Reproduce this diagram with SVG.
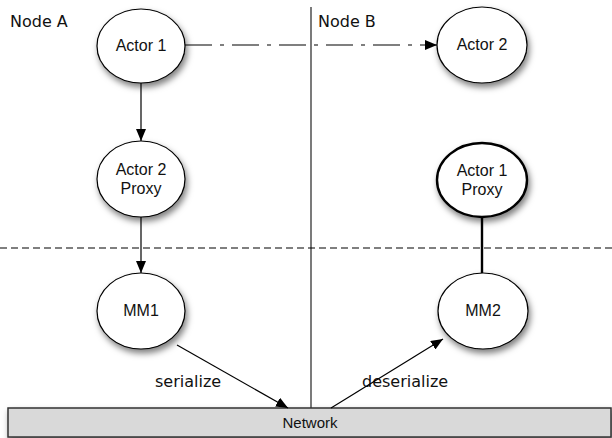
<svg xmlns="http://www.w3.org/2000/svg" width="612" height="438" viewBox="0 0 612 438">
  <style>
    .node { fill: #ffffff; stroke: #000000; stroke-width: 1.2; filter: url(#shadow); }
    .bold { stroke-width: 2.4; }
    .lbl { font-family: "Liberation Sans", Arial, sans-serif; font-size: 16px; fill: #111; text-anchor: middle; }
    .title { font-family: "DejaVu Sans", "Lucida Grande", sans-serif; font-size: 16px; fill: #111; }
    .edge { fill: none; stroke: #000; stroke-width: 1.2; }
    .thick { stroke-width: 2.4; }
  </style>
  <defs>
    <filter id="shadow" x="-30%" y="-30%" width="170%" height="170%">
      <feDropShadow dx="2" dy="4" stdDeviation="3" flood-color="#000" flood-opacity="0.5"/>
    </filter>
    <marker id="arrow" markerUnits="userSpaceOnUse" markerWidth="12" markerHeight="10" refX="12" refY="5" orient="auto">
      <path d="M0,0 L12,5 L0,10 z" fill="#000"/>
    </marker>
  </defs>
  <rect width="612" height="438" fill="#ffffff"/>

  <g id="partition">
    <line x1="311" y1="7" x2="311" y2="408" stroke="#333" stroke-width="1.3"/>
    <line x1="0" y1="248" x2="612" y2="248" stroke="#000" stroke-width="1.2" stroke-dasharray="7 4"/>
  </g>

  <g id="labels">
    <text class="title" x="10" y="27">Node A</text>
    <text class="title" x="318" y="27">Node B</text>
    <text class="title" x="155" y="387">serialize</text>
    <text class="title" x="362" y="387">deserialize</text>
  </g>

  <g id="network">
    <rect x="8" y="408" width="603" height="29" fill="#d9d9d9" stroke="#333" stroke-width="1.5" filter="url(#shadow)"/>
    <text class="lbl" x="310" y="428" style="font-size:15px">Network</text>
  </g>

  <g id="connectors">
    <path class="edge" d="M185,45 H437" stroke-dasharray="27 8 4 8" marker-end="url(#arrow)"/>
    <path class="edge" d="M141,83 V141" marker-end="url(#arrow)"/>
    <path class="edge" d="M141,217 V273" marker-end="url(#arrow)"/>
    <path class="edge thick" d="M482,217 V273"/>
    <path class="edge" d="M177,345 L288,408" marker-end="url(#arrow)"/>
    <path class="edge" d="M331,408 L443,339" marker-end="url(#arrow)"/>
  </g>

  <g id="actor1">
    <ellipse class="node" cx="141" cy="46" rx="44" ry="37"/>
    <text class="lbl" x="141" y="51">Actor 1</text>
  </g>
  <g id="actor2">
    <ellipse class="node" cx="482" cy="45" rx="45" ry="38"/>
    <text class="lbl" x="482" y="50">Actor 2</text>
  </g>
  <g id="actor2proxy">
    <ellipse class="node" cx="141" cy="179" rx="44" ry="38"/>
    <text class="lbl" x="141" y="175">Actor 2</text>
    <text class="lbl" x="141" y="194">Proxy</text>
  </g>
  <g id="actor1proxy">
    <ellipse class="node bold" cx="482" cy="180" rx="45" ry="37"/>
    <text class="lbl" x="482" y="176">Actor 1</text>
    <text class="lbl" x="482" y="195">Proxy</text>
  </g>
  <g id="mm1">
    <ellipse class="node" cx="141" cy="311" rx="44" ry="38"/>
    <text class="lbl" x="141" y="316">MM1</text>
  </g>
  <g id="mm2">
    <ellipse class="node" cx="483" cy="311" rx="45" ry="38"/>
    <text class="lbl" x="483" y="316">MM2</text>
  </g>
</svg>
